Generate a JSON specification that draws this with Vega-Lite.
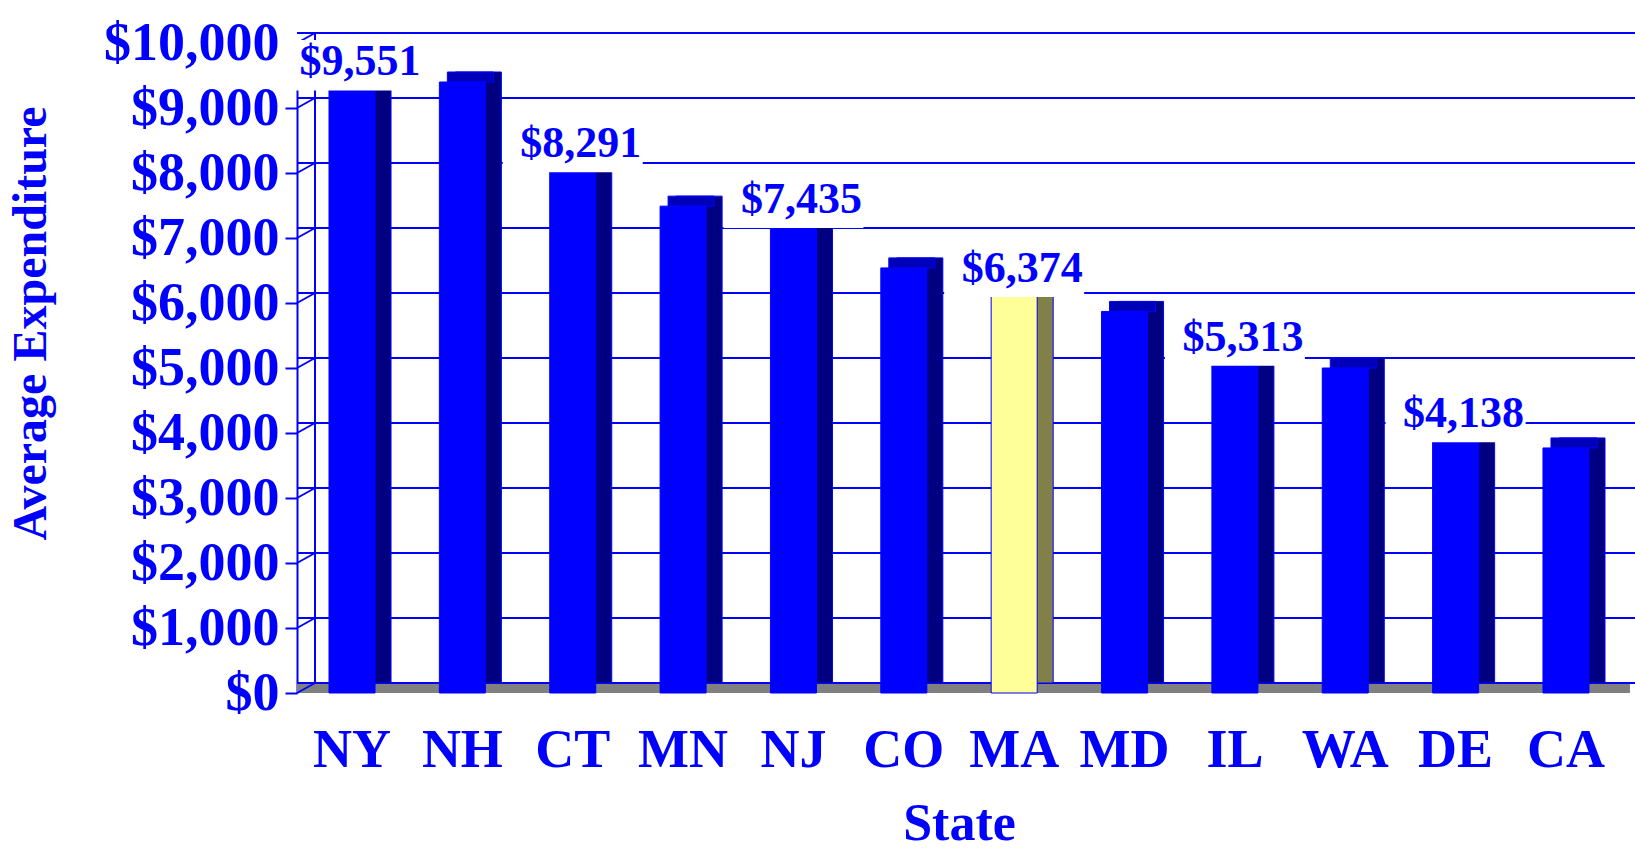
{
  "$schema": "https://vega.github.io/schema/vega-lite/v6.json",
  "width": 1324,
  "height": 650,
  "autosize": {"type": "none"},
  "padding": {"left": 297, "top": 43, "right": 14, "bottom": 159},
  "background": "white",
  "config": {
    "view": {"stroke": null},
    "font": "Liberation Serif",
    "axisY": {
      "format": "$,.0f",
      "labelFont": "Liberation Serif",
      "labelFontSize": 54,
      "labelFontWeight": "bold",
      "labelColor": "#0000ff",
      "labelOverlap": false,
      "labelPadding": 6,
      "tickColor": "#0000ff",
      "tickSize": 12,
      "tickWidth": 2,
      "domainColor": "#0000ff",
      "domainWidth": 2,
      "grid": false,
      "titleFont": "Liberation Serif",
      "titleFontSize": 48,
      "titleFontWeight": "bold",
      "titleColor": "#0000ff",
      "titleAngle": 270,
      "titleAlign": "center",
      "titleBaseline": "middle",
      "titleX": -266,
      "titleY": 280
    },
    "axisX": {
      "labelFont": "Liberation Serif",
      "labelFontSize": 54,
      "labelFontWeight": "bold",
      "labelColor": "#0000ff",
      "labelAngle": 0,
      "labelPadding": 30,
      "ticks": false,
      "domain": false,
      "grid": false,
      "titleFont": "Liberation Serif",
      "titleFontSize": 52,
      "titleFontWeight": "bold",
      "titleColor": "#0000ff",
      "titleBaseline": "alphabetic",
      "titleY": 146
    }
  },
  "datasets": {
    "spend": [
      {"state": "NY", "value": 9551, "labeled": true},
      {"state": "NH", "value": 9400, "labeled": false},
      {"state": "CT", "value": 8291, "labeled": true},
      {"state": "MN", "value": 7490, "labeled": false},
      {"state": "NJ", "value": 7435, "labeled": true},
      {"state": "CO", "value": 6540, "labeled": false},
      {"state": "MA", "value": 6374, "labeled": true},
      {"state": "MD", "value": 5870, "labeled": false},
      {"state": "IL", "value": 5313, "labeled": true},
      {"state": "WA", "value": 5000, "labeled": false},
      {"state": "DE", "value": 4138, "labeled": true},
      {"state": "CA", "value": 3770, "labeled": false}
    ],
    "grid": [
      {"v": 0}, {"v": 1000}, {"v": 2000}, {"v": 3000}, {"v": 4000}, {"v": 5000},
      {"v": 6000}, {"v": 7000}, {"v": 8000}, {"v": 9000}, {"v": 10000}
    ]
  },
  "layer": [
    {
      "data": {"name": "grid"},
      "transform": [{"filter": "datum.v === 0"}],
      "mark": {"type": "rule", "color": "#808080", "strokeWidth": 10, "yOffset": -5, "xOffset": 9},
      "encoding": {
        "y": {"field": "v", "type": "quantitative", "scale": {"domain": [0, 10000], "nice": false}, "title": "Average Expenditure", "axis": {"values": [0, 1000, 2000, 3000, 4000, 5000, 6000, 7000, 8000, 9000, 10000]}}
      }
    },
    {
      "data": {"name": "grid"},
      "mark": {"type": "rule", "color": "#0000ff", "strokeWidth": 2, "yOffset": -10, "xOffset": 18},
      "encoding": {
        "y": {"field": "v", "type": "quantitative", "title": "Average Expenditure", "axis": {"values": [0, 1000, 2000, 3000, 4000, 5000, 6000, 7000, 8000, 9000, 10000]}}
      }
    },
    {
      "data": {"name": "grid"},
      "mark": {"type": "rule", "color": "#0000ff", "strokeWidth": 2, "y2Offset": -10},
      "encoding": {
        "y": {"field": "v", "type": "quantitative", "title": "Average Expenditure", "axis": {"values": [0, 1000, 2000, 3000, 4000, 5000, 6000, 7000, 8000, 9000, 10000]}},
        "y2": {"field": "v"},
        "x": {"value": 0},
        "x2": {"value": 18}
      }
    },
    {
      "data": {"name": "grid"},
      "transform": [{"aggregate": [{"op": "min", "field": "v", "as": "lo"}, {"op": "max", "field": "v", "as": "hi"}]}],
      "mark": {"type": "rule", "color": "#0000ff", "strokeWidth": 2, "xOffset": 18, "yOffset": -10, "y2Offset": -10},
      "encoding": {
        "y": {"field": "lo", "type": "quantitative", "title": "Average Expenditure", "axis": {"values": [0, 1000, 2000, 3000, 4000, 5000, 6000, 7000, 8000, 9000, 10000]}},
        "y2": {"field": "hi"},
        "x": {"value": 0}
      }
    },
    {
      "data": {"name": "spend"},
      "mark": {"type": "bar", "xOffset": 16, "yOffset": -10, "y2Offset": -10, "stroke": "#0000ff", "strokeWidth": 1},
      "encoding": {
        "x": {"field": "state", "type": "nominal", "sort": null, "scale": {"paddingInner": 0.583, "paddingOuter": 0.29}, "title": "State"},
        "y": {"field": "value", "type": "quantitative", "title": "Average Expenditure", "axis": {"values": [0, 1000, 2000, 3000, 4000, 5000, 6000, 7000, 8000, 9000, 10000]}},
        "color": {"condition": {"test": "datum.state === 'MA'", "value": "#808048"}, "value": "#000080"}
      }
    },
    {
      "data": {"name": "spend"},
      "mark": {"type": "bar", "xOffset": 8, "yOffset": -10, "stroke": "#0000ff", "strokeWidth": 1},
      "encoding": {
        "x": {"field": "state", "type": "nominal", "sort": null, "title": "State"},
        "y": {"field": "value", "type": "quantitative", "title": "Average Expenditure", "axis": {"values": [0, 1000, 2000, 3000, 4000, 5000, 6000, 7000, 8000, 9000, 10000]}},
        "y2": {"field": "value"},
        "color": {"condition": {"test": "datum.state === 'MA'", "value": "#c8c870"}, "value": "#0000b8"}
      }
    },
    {
      "data": {"name": "spend"},
      "mark": {"type": "bar", "stroke": "#0000ff", "strokeWidth": 1},
      "encoding": {
        "x": {"field": "state", "type": "nominal", "sort": null, "title": "State"},
        "y": {"field": "value", "type": "quantitative", "title": "Average Expenditure", "axis": {"values": [0, 1000, 2000, 3000, 4000, 5000, 6000, 7000, 8000, 9000, 10000]}},
        "color": {"condition": {"test": "datum.state === 'MA'", "value": "#ffff99"}, "value": "#0000ff"}
      }
    },
    {
      "data": {"name": "spend"},
      "transform": [{"filter": "datum.labeled"}],
      "mark": {"type": "point", "shape": "M-1,-0.36L1,-0.36L1,0.36L-1,0.36Z", "size": 19600, "filled": true, "color": "white", "opacity": 1, "strokeWidth": 0, "yOffset": -7},
      "encoding": {
        "x": {"field": "state", "type": "nominal", "sort": null, "title": "State"},
        "y": {"field": "value", "type": "quantitative", "title": "Average Expenditure", "axis": {"values": [0, 1000, 2000, 3000, 4000, 5000, 6000, 7000, 8000, 9000, 10000]}}
      }
    },
    {
      "data": {"name": "spend"},
      "transform": [{"filter": "datum.labeled"}],
      "mark": {"type": "text", "font": "Liberation Serif", "fontSize": 44, "fontWeight": "bold", "color": "#0000ff", "align": "center", "baseline": "middle", "xOffset": 8, "yOffset": -10},
      "encoding": {
        "x": {"field": "state", "type": "nominal", "sort": null, "title": "State"},
        "y": {"field": "value", "type": "quantitative", "title": "Average Expenditure", "axis": {"values": [0, 1000, 2000, 3000, 4000, 5000, 6000, 7000, 8000, 9000, 10000]}},
        "text": {"field": "value", "type": "quantitative", "format": "$,.0f"}
      }
    }
  ]
}
